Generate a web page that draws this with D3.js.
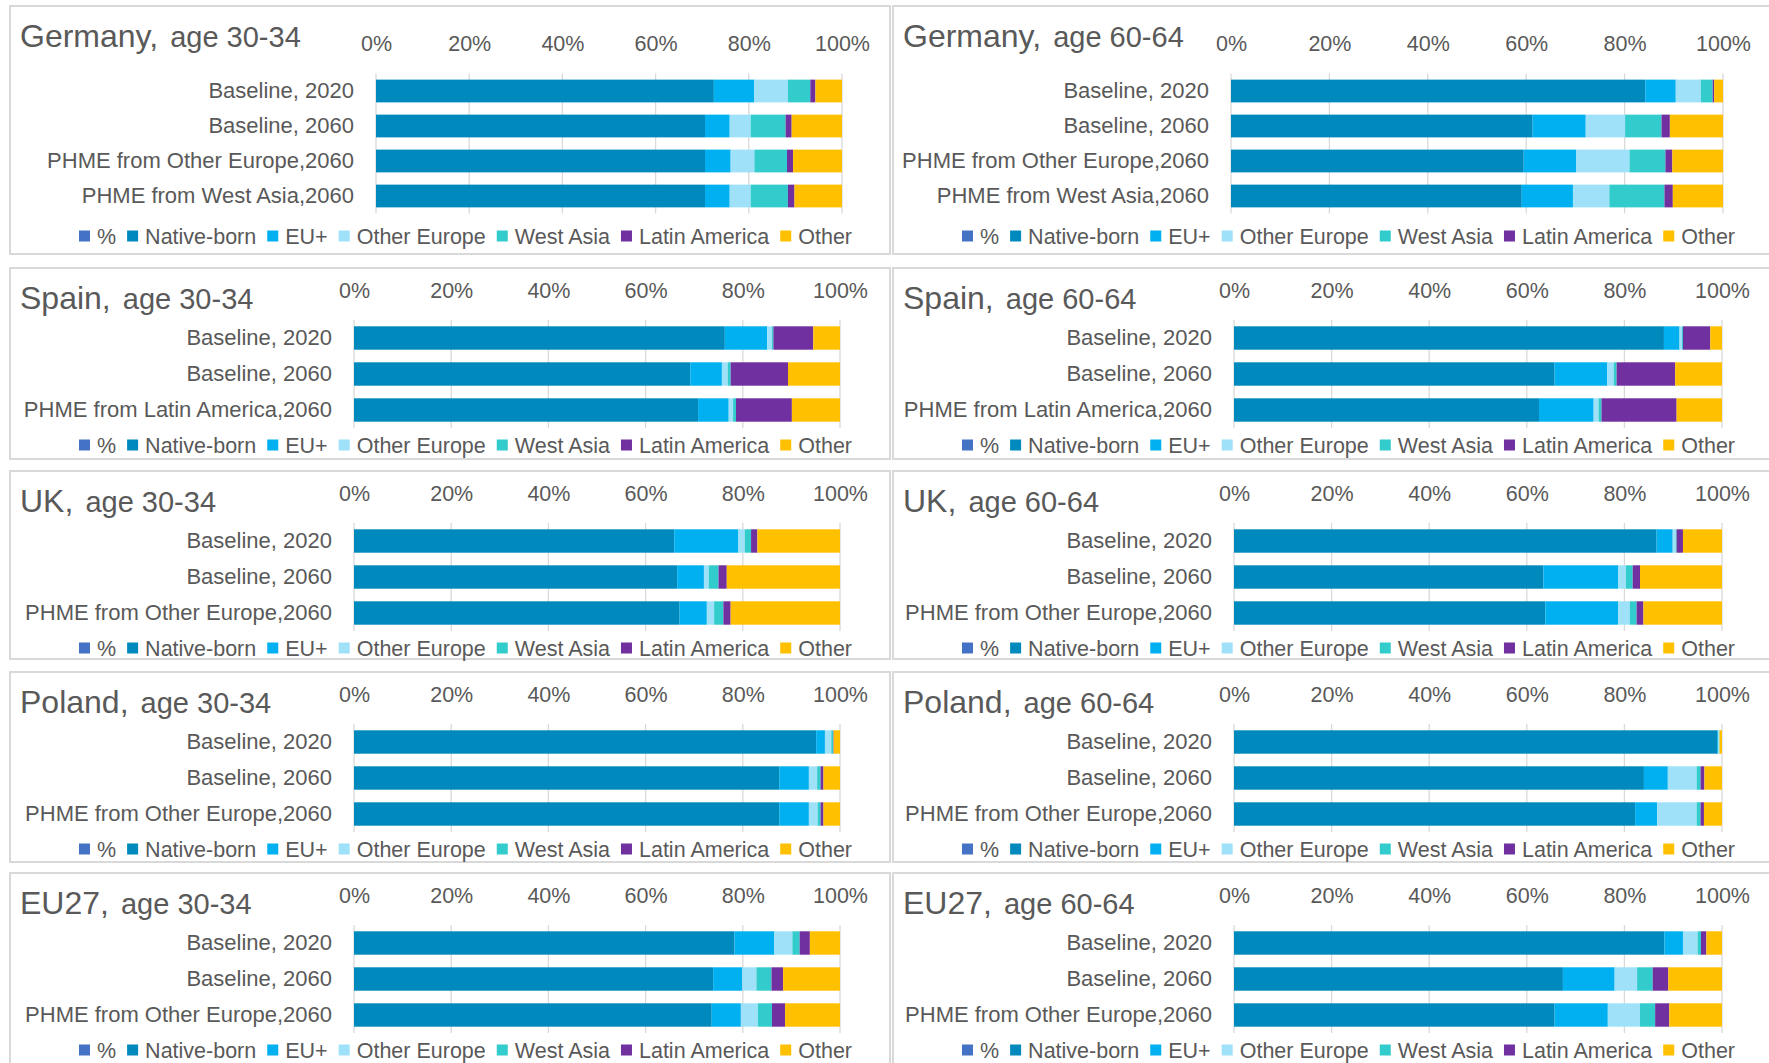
<!DOCTYPE html>
<html><head><meta charset="utf-8">
<script src="https://cdn.jsdelivr.net/npm/d3@7"></script>
<style>
html,body{margin:0;padding:0;background:#fff;}
svg{display:block;}
text{font-family:"Liberation Sans",Arial,sans-serif;fill:#595959;}
</style></head><body>
<svg id="chart" width="1769" height="1063"></svg>
<script>
// ---------- DATA ----------
const legendNames = ["%","Native-born","EU+","Other Europe","West Asia","Latin America","Other"];
const seriesKeys = ["Native-born","EU+","Other Europe","West Asia","Latin America","Other"];
const seriesColors = ["#4472C4","#0089BC","#00B0F0","#9EE1F9","#33CCCC","#7030A0","#FFC000"];
const tickValues = [0,20,40,60,80,100];
const tickLabels = ["0%","20%","40%","60%","80%","100%"];

const germanyCategories = ["Baseline, 2020","Baseline, 2060","PHME from Other Europe,2060","PHME from West Asia,2060"];
const spainCategories = ["Baseline, 2020","Baseline, 2060","PHME from Latin America,2060"];
const otherEuropeCategories = ["Baseline, 2020","Baseline, 2060","PHME from Other Europe,2060"];

// columns: Native-born, EU+, Other Europe, West Asia, Latin America, Other (in %)
const germany3034 = [[72.5,8.7,7.2,4.8,1.1,5.7],[70.6,5.3,4.5,7.5,1.3,10.8],[70.6,5.5,5.1,7.0,1.3,10.5],[70.6,5.3,4.5,8.0,1.4,10.2]];
const germany6064 = [[84.2,6.2,5.1,2.4,0.3,1.8],[61.3,10.8,8.0,7.4,1.7,10.8],[59.5,10.7,10.8,7.3,1.4,10.3],[59.1,10.4,7.4,11.2,1.7,10.2]];
const spain3034 = [[76.3,8.7,1.0,0.3,8.2,5.5],[69.2,6.5,1.2,0.6,11.8,10.7],[70.8,6.3,0.9,0.6,11.5,9.9]];
const spain6064 = [[88.1,3.2,0.5,0.2,5.6,2.4],[65.7,10.8,1.3,0.6,12.0,9.6],[62.5,11.2,1.0,0.6,15.4,9.3]];
const uk3034 = [[65.9,13.2,1.3,1.3,1.3,17.0],[66.5,5.5,1.0,2.0,1.7,23.3],[67.0,5.6,1.5,1.9,1.5,22.5]];
const uk6064 = [[86.6,3.3,0.6,0.2,1.3,8.0],[63.4,15.3,1.6,1.4,1.5,16.8],[63.8,14.9,2.4,1.4,1.4,16.1]];
const poland3034 = [[95.1,1.8,1.3,0.4,0.1,1.3],[87.5,6.1,1.7,0.7,0.6,3.4],[87.5,6.1,1.8,0.6,0.6,3.4]];
const poland6064 = [[99.0,0.2,0.2,0.1,0.0,0.5],[84.0,4.9,5.9,0.8,0.8,3.6],[82.2,4.5,8.1,0.8,0.7,3.7]];
const eu3034 = [[78.3,8.2,3.7,1.5,2.1,6.2],[73.9,6.0,2.9,3.1,2.4,11.7],[73.6,6.0,3.5,2.9,2.7,11.3]];
const eu6064 = [[88.2,3.8,3.0,0.7,1.1,3.2],[67.4,10.6,4.6,3.2,3.2,11.0],[65.7,10.9,6.6,3.1,2.9,10.8]];

const countries = ["Germany,","Spain,","UK,","Poland,","EU27,"];
const ages = ["age 30-34","age 60-64"];

// ---------- LAYOUT ----------
const panelDefs = [
  {row:0,col:0,country:countries[0],age:ages[0],cats:germanyCategories,vals:germany3034},
  {row:0,col:1,country:countries[0],age:ages[1],cats:germanyCategories,vals:germany6064},
  {row:1,col:0,country:countries[1],age:ages[0],cats:spainCategories,vals:spain3034},
  {row:1,col:1,country:countries[1],age:ages[1],cats:spainCategories,vals:spain6064},
  {row:2,col:0,country:countries[2],age:ages[0],cats:otherEuropeCategories,vals:uk3034},
  {row:2,col:1,country:countries[2],age:ages[1],cats:otherEuropeCategories,vals:uk6064},
  {row:3,col:0,country:countries[3],age:ages[0],cats:otherEuropeCategories,vals:poland3034},
  {row:3,col:1,country:countries[3],age:ages[1],cats:otherEuropeCategories,vals:poland6064},
  {row:4,col:0,country:countries[4],age:ages[0],cats:otherEuropeCategories,vals:eu3034},
  {row:4,col:1,country:countries[4],age:ages[1],cats:otherEuropeCategories,vals:eu6064}
];
const colX = [10, 893];
const panelW = 880;
const rowTops = [6, 268, 471, 672, 873];
const rowBottoms = [254, 459, 659, 862, 1075];
const plotRanges = [
  [[376,842],[1231,1723]],
  [[354,840],[1234,1722]],
  [[354,840],[1234,1722]],
  [[354,840],[1234,1722]],
  [[354,840],[1234,1722]]
];
const smallFont = 21.5;
const catFont = 22;

const svg = d3.select("#chart");
const color = d3.scaleOrdinal().domain(legendNames).range(seriesColors);

panelDefs.forEach(p => {
  const top = rowTops[p.row], bottom = rowBottoms[p.row];
  const px = colX[p.col];
  const g = svg.append("g");

  g.append("rect").attr("x", px).attr("y", top).attr("width", panelW).attr("height", bottom - top)
    .attr("fill", "#fff").attr("stroke", "#D9D9D9").attr("stroke-width", 2);

  // title
  const t = g.append("text").attr("x", px + 10).attr("y", top + 41);
  t.append("tspan").attr("font-size", 32).text(p.country);
  t.append("tspan").attr("font-size", 29).attr("dx", 4).text(" " + p.age);

  const n = p.cats.length;
  const step = n === 4 ? 35 : 36;
  const y0 = top + (n === 4 ? 67.5 : 52);
  const x = d3.scaleLinear().domain([0, 100]).range(plotRanges[p.row][p.col]);
  const y = d3.scaleBand().domain(p.cats).range([y0, y0 + n * step]).paddingInner(0.35).paddingOuter(0.175);

  // gridlines
  g.append("g").selectAll("line").data(tickValues).join("line")
    .attr("x1", d => x(d)).attr("x2", d => x(d))
    .attr("y1", y0).attr("y2", y0 + n * step)
    .attr("stroke", "#D9D9D9").attr("stroke-width", 1.3);

  // top axis
  const tickY = top + (n === 4 ? 45 : 30);
  const ax = g.append("g").attr("transform", `translate(0,${tickY})`)
    .call(d3.axisTop(x).tickValues(tickValues).tickFormat((d, i) => tickLabels[i]).tickSize(0).tickPadding(0));
  ax.attr("font-family", null).attr("font-size", null);
  ax.select(".domain").remove();
  ax.selectAll("text").attr("font-size", smallFont).attr("fill", null);

  // bars
  const rowsObj = p.vals.map((v, i) => {
    const o = {cat: p.cats[i]};
    seriesKeys.forEach((k, j) => o[k] = v[j]);
    return o;
  });
  const stacked = d3.stack().keys(seriesKeys)(rowsObj);
  g.append("g").selectAll("g").data(stacked).join("g")
    .attr("fill", s => color(s.key))
    .selectAll("rect").data(s => s).join("rect")
    .attr("x", d => x(d[0])).attr("width", d => Math.max(0, x(d[1]) - x(d[0])))
    .attr("y", d => y(d.data.cat)).attr("height", y.bandwidth());

  // left axis (categories)
  const ay = g.append("g").attr("transform", `translate(${x(0)},0)`)
    .call(d3.axisLeft(y).tickSize(0).tickPadding(22));
  ay.attr("font-family", null).attr("font-size", null);
  ay.select(".domain").remove();
  ay.selectAll("text").attr("font-size", catFont).attr("fill", null);

  // legend
  const legY = top + (n === 4 ? 230 : 177);
  const lg = g.append("g");
  let cx = 0;
  legendNames.forEach((name, i) => {
    lg.append("rect").attr("x", cx).attr("y", legY - 5.5).attr("width", 11).attr("height", 11).attr("fill", color(name));
    const tt = lg.append("text").attr("x", cx + 18).attr("y", legY + 7.5).attr("font-size", smallFont).text(name);
    cx += 18 + tt.node().getComputedTextLength() + 11;
  });
  const totalW = cx - 11;
  lg.attr("transform", `translate(${px + 455.5 - totalW / 2},0)`);
});
</script>
</body></html>
